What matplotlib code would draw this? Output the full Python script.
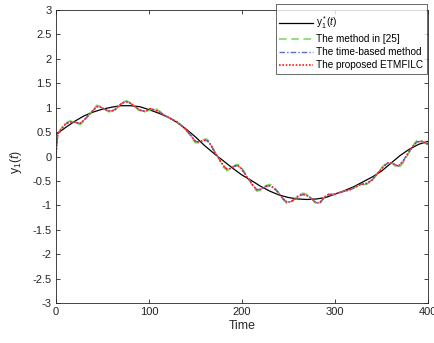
import numpy as np
import matplotlib
matplotlib.use("Agg")
import matplotlib.pyplot as plt

plt.rcParams['font.family'] = ['Liberation Sans', 'DejaVu Sans']
plt.rcParams['mathtext.fontset'] = 'custom'
plt.rcParams['mathtext.rm'] = 'Liberation Sans'
plt.rcParams['mathtext.it'] = 'Liberation Sans:italic'

# Reference trajectory y1*(t)
t_ref = [0, 10, 20, 30, 40, 50, 60, 70, 80, 90, 100, 110, 120, 130, 140, 150,
         160, 170, 180, 190, 200, 210, 220, 230, 240, 250, 260, 270, 280, 290,
         300, 310, 320, 330, 340, 350, 360, 370, 380, 390, 400]
y_ref = [0.45, 0.59, 0.72, 0.83, 0.91, 0.97, 1.01, 1.04, 1.04, 1.02, 0.96,
         0.89, 0.81, 0.70, 0.56, 0.40, 0.22, 0.06, -0.09, -0.24, -0.38, -0.49,
         -0.61, -0.71, -0.79, -0.84, -0.87, -0.88, -0.87, -0.84, -0.77, -0.70,
         -0.62, -0.52, -0.42, -0.30, -0.14, 0.02, 0.15, 0.25, 0.31]

# Sample instants of the tracked outputs
t_out = [0, 1, 2, 5, 10, 15, 20, 26, 31, 37, 44, 48, 52, 56, 60, 64, 68, 72,
         76, 80, 85, 90, 94, 98, 101, 105, 108, 112, 116, 120, 124, 130, 137,
         143, 147, 150, 153, 156, 159, 162, 165, 168, 171, 174, 177, 180, 184,
         187, 190, 193, 196, 199, 202, 205, 209, 212, 216, 220, 223, 226, 230,
         233, 236, 239, 241, 244, 248, 252, 257, 261, 266, 269, 272, 276, 278,
         281, 284, 287, 290, 293, 297, 300, 305, 310, 316, 322, 328, 334, 340,
         346, 352, 357, 362, 365, 368, 373, 378, 383, 388, 393, 398, 400]

# Output with the method in [25]
y_m25 = [0.0, 0.30, 0.45, 0.55, 0.68, 0.73, 0.70, 0.65, 0.74, 0.89, 1.05, 1.03,
         0.97, 0.92, 0.91, 0.96, 1.05, 1.12, 1.14, 1.10, 1.02, 0.93, 0.91, 0.93,
         0.95, 0.97, 0.97, 0.92, 0.86, 0.81, 0.77, 0.72, 0.60, 0.47, 0.35, 0.28,
         0.28, 0.31, 0.35, 0.36, 0.31, 0.20, 0.09, 0.0, -0.12, -0.22, -0.29,
         -0.27, -0.22, -0.17, -0.16, -0.21, -0.30, -0.40, -0.52, -0.63, -0.71,
         -0.69, -0.64, -0.59, -0.57, -0.60, -0.66, -0.73, -0.79, -0.88, -0.96,
         -0.95, -0.87, -0.78, -0.75, -0.77, -0.81, -0.89, -0.94, -0.98, -0.96,
         -0.87, -0.80, -0.77, -0.77, -0.77, -0.74, -0.71, -0.69, -0.63, -0.58,
         -0.57, -0.49, -0.34, -0.19, -0.11, -0.15, -0.20, -0.24, -0.14, 0.03,
         0.20, 0.33, 0.33, 0.26, 0.24]

# Output with the time-based method
y_time = [0.0, 0.30, 0.46, 0.55, 0.66, 0.71, 0.70, 0.68, 0.76, 0.89, 1.02,
          1.01, 0.97, 0.94, 0.93, 0.97, 1.05, 1.10, 1.12, 1.09, 1.02, 0.95,
          0.93, 0.95, 0.98, 0.96, 0.94, 0.90, 0.85, 0.81, 0.77, 0.71, 0.60,
          0.48, 0.38, 0.31, 0.30, 0.31, 0.33, 0.33, 0.28, 0.18, 0.08, 0.0,
          -0.10, -0.19, -0.26, -0.25, -0.22, -0.19, -0.19, -0.24, -0.32, -0.41,
          -0.51, -0.60, -0.68, -0.67, -0.64, -0.61, -0.60, -0.63, -0.68, -0.74,
          -0.79, -0.86, -0.93, -0.93, -0.87, -0.80, -0.78, -0.79, -0.82, -0.88,
          -0.92, -0.95, -0.94, -0.87, -0.81, -0.78, -0.78, -0.77, -0.74, -0.71,
          -0.68, -0.62, -0.57, -0.55, -0.48, -0.34, -0.21, -0.13, -0.14, -0.17,
          -0.20, -0.10, 0.05, 0.19, 0.30, 0.31, 0.27, 0.26]

# Output with the proposed ETMFILC
y_etm = [0.0, 0.30, 0.46, 0.55, 0.66, 0.71, 0.70, 0.68, 0.76, 0.89, 1.02, 1.01,
         0.97, 0.94, 0.93, 0.97, 1.05, 1.10, 1.12, 1.09, 1.02, 0.95, 0.93, 0.95,
         0.98, 0.96, 0.94, 0.90, 0.85, 0.81, 0.77, 0.71, 0.60, 0.48, 0.38, 0.31,
         0.30, 0.31, 0.33, 0.33, 0.28, 0.18, 0.08, 0.0, -0.10, -0.19, -0.26,
         -0.25, -0.22, -0.19, -0.19, -0.24, -0.32, -0.41, -0.51, -0.60, -0.68,
         -0.67, -0.64, -0.61, -0.60, -0.63, -0.68, -0.74, -0.79, -0.86, -0.93,
         -0.93, -0.87, -0.80, -0.78, -0.79, -0.82, -0.88, -0.92, -0.95, -0.94,
         -0.87, -0.81, -0.78, -0.78, -0.77, -0.74, -0.71, -0.68, -0.62, -0.57,
         -0.55, -0.48, -0.34, -0.21, -0.13, -0.14, -0.17, -0.20, -0.10, 0.05,
         0.19, 0.30, 0.31, 0.27, 0.26]

x_ticks = [0, 100, 200, 300, 400]
y_ticks = [-3, -2.5, -2, -1.5, -1, -0.5, 0, 0.5, 1, 1.5, 2, 2.5, 3]

axis_col = '#262626'

fig = plt.figure(figsize=(4.35, 3.43), dpi=100)
ax = fig.add_axes([56 / 435, 40 / 343, 372 / 435, 293 / 343])

l0, = ax.plot(t_ref, y_ref, color='black', lw=0.9,
              label=r'y$_1^*$($t$)')
l1, = ax.plot(t_out, y_m25, color='#77d65a', lw=1.1, ls=(0, (5, 3)),
              label='The method in [25]')
l2, = ax.plot(t_out, y_time, color='#5c6fd1', lw=1.0, ls=(0, (4, 1.5, 1, 1.5)),
              label='The time-based method')
l3, = ax.plot(t_out, y_etm, color='#ff1a1a', lw=1.2, ls=(0, (1, 1)),
              label='The proposed ETMFILC')

ax.set_xlim(0, 400)
ax.set_ylim(-3, 3)
ax.set_xticks(x_ticks)
ax.set_xticklabels([str(v) for v in x_ticks])
ax.set_yticks(y_ticks)
ax.set_yticklabels([('%g' % v) for v in y_ticks])

ax.tick_params(direction='in', length=3, width=0.6, colors=axis_col,
               labelsize=8, top=True, right=True, pad=3)
for s in ax.spines.values():
    s.set_color(axis_col)
    s.set_linewidth(0.6)

ax.set_xlabel('Time', fontsize=8.8, color=axis_col, labelpad=2)
ax.set_ylabel(r'y$_1$($t$)', fontsize=8.8, color=axis_col)
ax.yaxis.set_label_coords(-0.085, 0.48)

# a tiny blank title adds some headroom above the first entry
leg = fig.legend(handles=[l0, l1, l2, l3], loc='upper right',
                 bbox_to_anchor=(427 / 435, 1 - 4 / 343), fontsize=7.2,
                 title=' ', title_fontsize=2.5,
                 frameon=True, fancybox=False, handlelength=3.4,
                 handletextpad=0.3, borderpad=0.35, labelspacing=0.3,
                 borderaxespad=0)
leg.get_frame().set_edgecolor(axis_col)
leg.get_frame().set_linewidth(0.6)
for txt in leg.get_texts():
    txt.set_color('black')

fig.savefig('out.png', dpi=100)
